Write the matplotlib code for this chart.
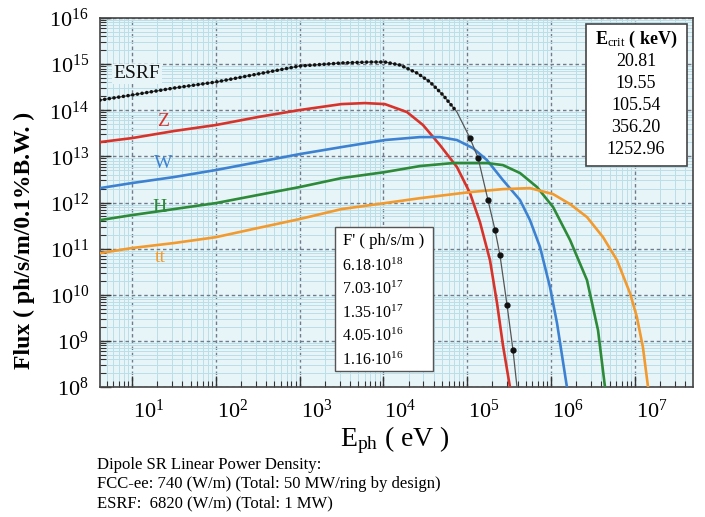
import numpy as np
import matplotlib
matplotlib.use("Agg")
import matplotlib.pyplot as plt
from matplotlib.patches import Rectangle
from matplotlib.transforms import ScaledTranslation

plt.rcParams['font.family'] = ['Liberation Serif', 'DejaVu Serif']
plt.rcParams['mathtext.fontset'] = 'custom'
plt.rcParams['mathtext.rm'] = 'Liberation Serif'
plt.rcParams['mathtext.it'] = 'Liberation Serif:italic'
plt.rcParams['mathtext.bf'] = 'Liberation Serif:bold'

# ---------------- data (photon energy in eV, flux in ph/s/m/0.1%BW) ----------------
esrf_E = [4.15, 10, 31.6, 100, 316, 1000, 3200, 6900, 1.04e4, 1.58e4, 2.52e4, 3.6e4,
          5.14e4, 7.55e4, 1.08e5, 1.35e5, 1.77e5, 2.15e5, 2.46e5, 2.99e5, 3.52e5, 3.93e5]
esrf_F = [1.66e14, 2.14e14, 3.03e14, 4.09e14, 6.10e14, 9.10e14, 1.06e15, 1.11e15, 1.11e15,
          9.55e14, 6.41e14, 4.09e14, 2.14e14, 9.14e13, 2.49e13, 9.18e12, 1.13e12, 2.52e11,
          7.23e10, 5.94e9, 6.28e8, 9.9e7]

z_E = [4.15, 10, 31.6, 100, 316, 1000, 3160, 6030, 1.04e4, 1.91e4, 2.97e4, 4.73e4, 7.55e4,
       1.08e5, 1.42e5, 1.87e5, 2.27e5, 2.67e5, 3.24e5]
z_F = [2.04e13, 2.49e13, 3.54e13, 4.78e13, 7.11e13, 1.01e14, 1.36e14, 1.43e14, 1.36e14,
       9.14e13, 4.78e13, 1.76e13, 5.86e12, 1.60e12, 3.76e11, 5.62e10, 6.58e9, 8.07e8, 9.9e7]

w_E = [4.15, 10, 31.6, 100, 316, 1000, 3160, 1.04e4, 2.73e4, 4.73e4, 7.55e4, 1.17e5, 1.72e5,
       2.67e5, 4.27e5, 5.61e5, 7.40e5, 9.73e5, 1.18e6, 1.55e6]
w_F = [2.05e12, 2.64e12, 3.56e12, 5.05e12, 7.52e12, 1.12e13, 1.59e13, 2.26e13, 2.62e13,
       2.62e13, 2.26e13, 1.51e13, 8.32e12, 3.06e12, 1.13e12, 4.15e11, 1.08e11, 1.46e10,
       2.42e9, 9.9e7]

h_E = [4.15, 10, 31.6, 100, 316, 1000, 3160, 1.04e4, 2.73e4, 6.77e4, 1.72e5, 2.67e5, 4.27e5,
       6.81e5, 1.06e6, 1.69e6, 2.69e6, 3.64e6, 4.41e6]
h_F = [4.15e11, 5.33e11, 7.19e11, 9.70e11, 1.45e12, 2.16e12, 3.38e12, 4.56e12, 6.17e12,
       7.16e12, 7.16e12, 6.47e12, 4.35e12, 2.16e12, 7.94e11, 1.53e11, 2.07e10, 1.71e9, 9.9e7]

tt_E = [4.15, 10, 31.6, 100, 316, 1000, 3160, 1.04e4, 2.73e4, 1.08e5, 2.67e5, 5.61e5, 1.06e6,
        1.69e6, 2.69e6, 4.18e6, 6.13e6, 8.77e6, 1.06e7, 1.25e7, 1.44e7]
tt_F = [7.98e10, 1.03e11, 1.32e11, 1.77e11, 2.79e11, 4.37e11, 7.19e11, 9.70e11, 1.24e12,
        1.68e12, 1.95e12, 2.05e12, 1.52e12, 9.22e11, 4.82e11, 1.77e11, 5.62e10, 1.08e10,
        3.27e9, 7.29e8, 9.9e7]

curve_names = ['ESRF', 'Z', 'W', 'H', 'tt']
curve_colors = ['#111111', '#d8332b', '#3d82d2', '#2c8a38', '#f29a2e']

ecrit_values = ['20.81', '19.55', '105.54', '356.20', '1252.96']
fprime_mant = ['6.18', '7.03', '1.35', '4.05', '1.16']
fprime_exp = ['18', '17', '17', '16', '16']

x_decades = [1, 2, 3, 4, 5, 6, 7]
y_decades = [8, 9, 10, 11, 12, 13, 14, 15, 16]

notes = ['Dipole SR Linear Power Density:',
         'FCC-ee: 740 (W/m) (Total: 50 MW/ring by design)',
         'ESRF:  6820 (W/m) (Total: 1 MW)']

# ---------------- figure ----------------
W, H = 705, 517
fig = plt.figure(figsize=(W / 100, H / 100), dpi=100)
fx = lambda px: px / W
fy = lambda py: 1 - py / H

ax = fig.add_axes([fx(100), fy(387), fx(693) - fx(100), fy(18) - fy(387)])
ax.set_xscale('log')
ax.set_yscale('log')
ax.set_xlim(4.15, 4.95e7)
ax.set_ylim(1e8, 1e16)
ax.set_facecolor('#e8f5f8')

# grids
ax.set_xticks([10.0 ** d for d in x_decades])
ax.set_yticks([10.0 ** d for d in y_decades])
ax.xaxis.set_minor_locator(matplotlib.ticker.LogLocator(base=10, subs=np.arange(2, 10), numticks=20))
ax.yaxis.set_minor_locator(matplotlib.ticker.LogLocator(base=10, subs=np.arange(2, 10), numticks=20))
ax.xaxis.set_minor_formatter(matplotlib.ticker.NullFormatter())
ax.yaxis.set_minor_formatter(matplotlib.ticker.NullFormatter())
ax.grid(which='minor', color='#b9dfe8', lw=0.7, ls='-')
ax.grid(which='major', color='#707c8c', lw=1.0, ls=(0, (2.5, 2)))
ax.set_axisbelow(True)

ax.set_xticklabels([r'$10^{%d}$' % d for d in x_decades], fontsize=16)
ax.set_yticklabels([r'$10^{%d}$' % d for d in y_decades], fontsize=16)
ax.tick_params(which='both', direction='in', color='#333333')
ax.tick_params(which='major', length=8, width=1.0)
ax.tick_params(which='minor', length=4, width=0.8)
ax.tick_params(axis='x', pad=9)
ax.tick_params(axis='y', pad=8)
offset = ScaledTranslation(0.17, 0, fig.dpi_scale_trans)
for lab in ax.get_xticklabels():
    lab.set_transform(lab.get_transform() + offset)
for s in ax.spines.values():
    s.set_color('#444444')
    s.set_linewidth(1.2)

# curves
series = [(esrf_E, esrf_F), (z_E, z_F), (w_E, w_F), (h_E, h_F), (tt_E, tt_F)]
for i, ((E, F), c) in enumerate(zip(series, curve_colors)):
    if i == 0:
        ax.plot(E, F, color='#555555', lw=0.9, zorder=4)
        ax.plot(E[:14], F[:14], color=c, lw=2.6, ls=(0, (0.01, 1.3)),
                dash_capstyle='round', zorder=5)
        ax.plot(E[14:-1], F[14:-1], ls='none', marker='o', ms=3.5, color=c, zorder=5)
    else:
        ax.plot(E, F, color=c, lw=1.9, zorder=3)

# curve labels
label_pos = [(137, 74), (163, 121), (163, 163), (160, 208), (160, 258)]
for name, c, (px, py) in zip(curve_names, curve_colors, label_pos):
    fig.text(fx(px), fy(py), name, color=c, fontsize=14, ha='center', va='center',
             bbox=dict(facecolor='#e8f5f8', edgecolor='none', pad=1.0) if name == 'ESRF' else None)

# E_crit box
fig.patches.append(Rectangle((fx(586), fy(166)), fx(687) - fx(586), fy(24) - fy(166),
                             transform=fig.transFigure, facecolor='white',
                             edgecolor='#444444', lw=1.2, zorder=10))
fig.text(fx(636), fy(39), r'$\mathbf{E}_{\mathrm{crit}}$' + ' ( keV)', fontsize=13,
         fontweight='bold', ha='center', va='center', zorder=11)
for k, v in enumerate(ecrit_values):
    fig.text(fx(636), fy(61 + k * 22), v, fontsize=13, ha='center', va='center', zorder=11)

# F' box
fig.patches.append(Rectangle((fx(335), fy(371)), fx(433) - fx(335), fy(227) - fy(371),
                             transform=fig.transFigure, facecolor='white',
                             edgecolor='#555555', lw=1.0, zorder=10))
fig.text(fx(384), fy(241), "F' ( ph/s/m )", fontsize=12, ha='center', va='center', zorder=11)
for k, (m, e) in enumerate(zip(fprime_mant, fprime_exp)):
    fig.text(fx(342), fy(266 + k * 23.5), m + r'$\cdot$10$^{%s}$' % e, fontsize=11.5,
             ha='left', va='center', zorder=11)

# axis labels
fig.text(fx(24), fy(240), 'Flux ( ph/s/m/0.1%B.W. )', fontsize=17, fontweight='bold',
         rotation=90, ha='center', va='center')
fig.text(fx(395), fy(440), r'E$_{\mathrm{ph}}$ ( eV )', fontsize=20, ha='center', va='center')

# notes
for k, t in enumerate(notes):
    fig.text(fx(97), fy(465 + k * 19), t, fontsize=12, ha='left', va='center')

fig.savefig('out.png', dpi=100, facecolor='white')
